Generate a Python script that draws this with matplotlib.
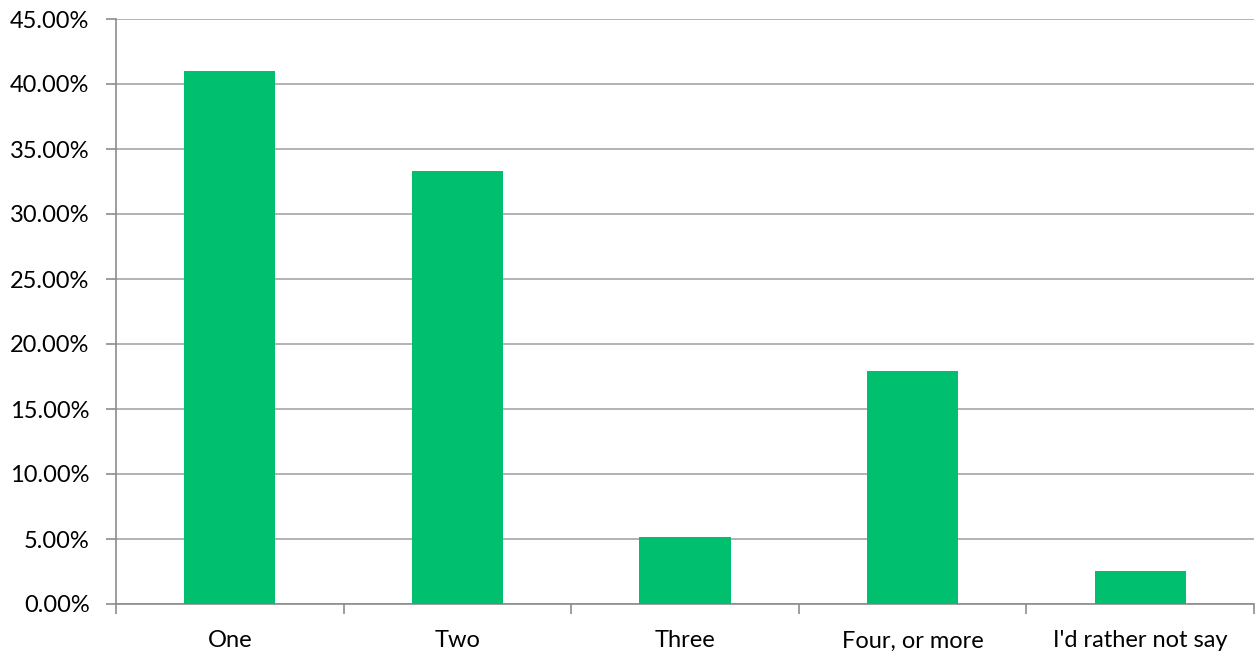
import numpy as np
import matplotlib.pyplot as plt
from matplotlib.ticker import PercentFormatter, FixedLocator

plt.rcParams['font.family'] = ['Lato', 'DejaVu Sans']

categories = ['One', 'Two', 'Three', 'Four, or more', "I'd rather not say"]
shares = [41.03, 33.33, 5.13, 17.95, 2.56]

fig = plt.figure(figsize=(12.55, 6.53), dpi=100)
ax = fig.add_axes([116/1255, 1 - 604/653, (1254 - 116)/1255, (604 - 19)/653])

x = np.arange(len(categories))
ax.bar(x, shares, width=0.4, color='#00C070', zorder=3)

ax.set_xlim(-0.5, len(categories) - 0.5)
ax.set_ylim(0, 45)
ax.set_yticks(np.arange(0, 46, 5))
ax.yaxis.set_major_formatter(PercentFormatter(decimals=2))
ax.grid(axis='y', color='#A6A6A6', linewidth=1.2, zorder=0)

# category labels centred, tick marks on category boundaries
ax.set_xticks(x)
ax.set_xticklabels(categories)
ax.xaxis.set_minor_locator(FixedLocator(np.arange(-0.5, len(categories), 1)))
ax.tick_params(axis='x', which='major', length=0, pad=19, labelsize=17)
ax.tick_params(axis='x', which='minor', length=7, width=1.2, color='#8C8C8C')
ax.tick_params(axis='y', length=7, width=1.2, color='#8C8C8C', labelsize=17, pad=12)

for side in ['top', 'right']:
    ax.spines[side].set_visible(False)
for side in ['left', 'bottom']:
    ax.spines[side].set_color('#8C8C8C')
    ax.spines[side].set_linewidth(1.2)

plt.savefig('out.png', dpi=100)
